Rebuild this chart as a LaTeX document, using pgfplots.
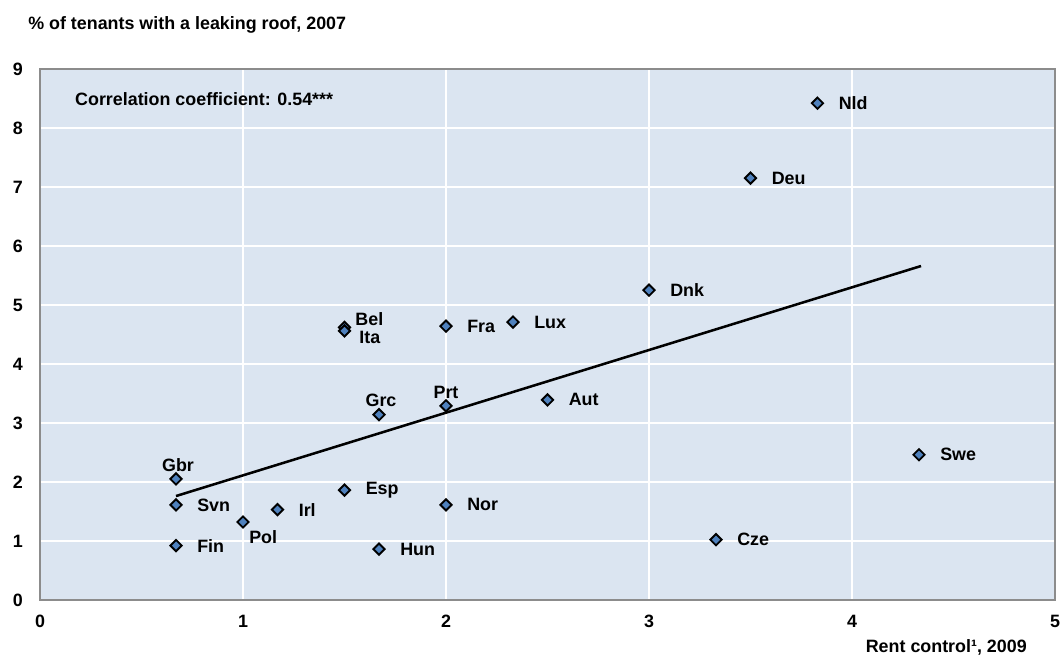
\documentclass[border=0pt]{standalone}
\usepackage{pgfplots}
\pgfplotsset{compat=1.18}
\usepackage{fontspec}
\setmainfont{Liberation Sans}
\definecolor{bgc}{HTML}{DBE5F1}
\definecolor{mk}{HTML}{4F81BD}
\newcommand{\lab}{\fontsize{13.4}{15}\selectfont\bfseries}
\begin{document}
\begin{tikzpicture}
\begin{axis}[
  scale only axis, width=761pt, height=398pt,
  xmin=0, xmax=5, ymin=0, ymax=9,
  xtick={0,1,2,3,4,5}, ytick={0,1,2,3,4,5,6,7,8,9},
  axis background/.style={fill=bgc},
  grid=major, grid style={white, line width=1.5pt},
  axis line style={draw=gray!90, line width=1.5pt},
  tick style={draw=none},
  /pgf/number format/assume math mode=true,
  ticklabel style={font=\fontsize{13.4}{15}\selectfont\bfseries, inner sep=0pt},
  xticklabel style={yshift=-11.5pt},
  yticklabel style={xshift=-12.75pt},
  clip=false,
]
\addplot[black, line width=1.9pt] coordinates {(0.67,1.76) (4.34,5.66)};
\addplot[only marks, mark=square*, mark size=3.0pt,
  mark options={rotate=45, fill=mk, draw=black, line width=1.4pt}] table {
x y
3.83 8.42
3.50 7.15
3.00 5.25
1.50 4.62
1.50 4.56
2.00 4.64
2.33 4.71
1.67 3.14
2.00 3.29
2.50 3.39
4.33 2.46
0.67 2.05
0.67 1.61
1.17 1.53
1.00 1.32
0.67 0.92
1.50 1.86
2.00 1.61
1.67 0.86
3.33 1.02
};
\begin{scope}[every node/.style={font=\lab, inner sep=0pt, anchor=west, xshift=15.75pt}]
\node at (axis cs:3.83,8.42) {Nld};
\node at (axis cs:3.50,7.15) {Deu};
\node at (axis cs:3.00,5.25) {Dnk};
\node at (axis cs:2.00,4.64) {Fra};
\node at (axis cs:2.33,4.71) {Lux};
\node at (axis cs:2.50,3.39) {Aut};
\node at (axis cs:4.33,2.46) {Swe};
\node at (axis cs:0.67,1.61) {Svn};
\node at (axis cs:1.17,1.53) {Irl};
\node at (axis cs:0.67,0.92) {Fin};
\node at (axis cs:1.50,1.86) {Esp};
\node at (axis cs:2.00,1.61) {Nor};
\node at (axis cs:1.67,0.86) {Hun};
\node at (axis cs:3.33,1.02) {Cze};
\end{scope}
\begin{scope}[every node/.style={font=\lab, inner sep=0pt}]
\node[anchor=west, xshift=8pt, yshift=6pt] at (axis cs:1.50,4.62) {Bel};
\node[anchor=west, xshift=11pt, yshift=-5pt] at (axis cs:1.50,4.56) {Ita};
\node[anchor=center, xshift=1.5pt, yshift=10.5pt] at (axis cs:1.67,3.14) {Grc};
\node[anchor=center, yshift=10pt] at (axis cs:2.00,3.29) {Prt};
\node[anchor=center, xshift=1.5pt, yshift=10pt] at (axis cs:0.67,2.05) {Gbr};
\node[anchor=west, xshift=4.5pt, yshift=-11pt] at (axis cs:1.00,1.32) {Pol};
\node[anchor=west] at (axis cs:0.172,8.49) {Correlation coefficient: 0.54***};
\node[anchor=west] at ([xshift=-9pt, yshift=33pt]rel axis cs:0,1) {\% of tenants with a leaking roof, 2007};
\node[anchor=east] at ([xshift=-21pt, yshift=-36pt]rel axis cs:1,0) {Rent control¹, 2009};
\end{scope}
\end{axis}
\path[use as bounding box] (-30pt,-44.25pt) rectangle (767pt,449.75pt);
\end{tikzpicture}
\end{document}
